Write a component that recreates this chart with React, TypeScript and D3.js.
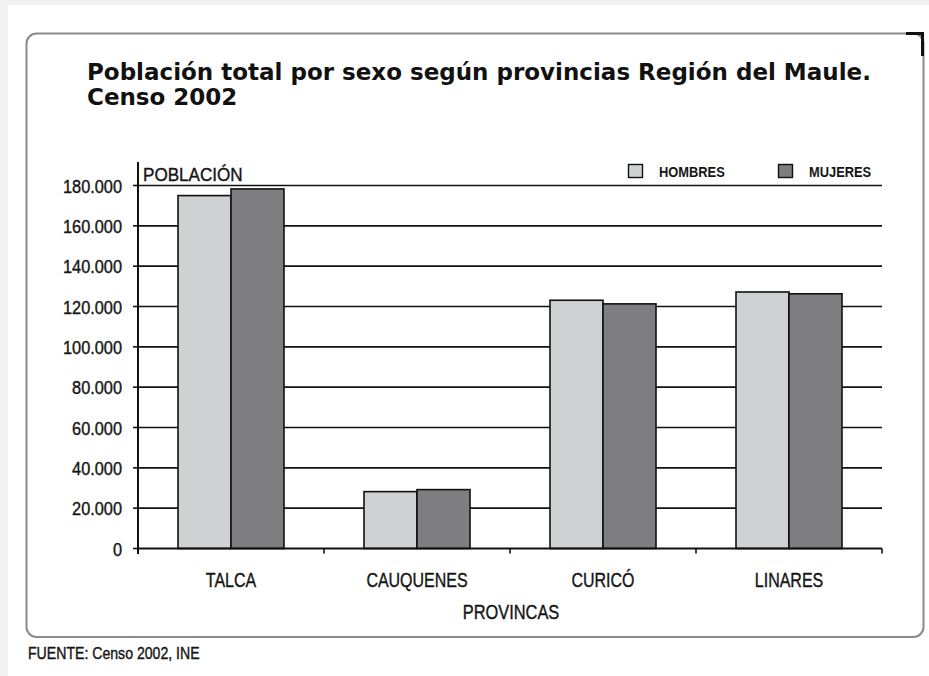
import React from "react";
import * as d3 from "d3";

const categories = ["TALCA", "CAUQUENES", "CURICÓ", "LINARES"];
const seriesNames = ["HOMBRES", "MUJERES"];
const hombres = [175000, 28200, 123100, 127200];
const mujeres = [178300, 29200, 121300, 126300];
const yTicks = [0, 20000, 40000, 60000, 80000, 100000, 120000, 140000, 160000, 180000];

const W = 929;
const H = 676;
const X0 = 138;
const X1 = 882;
const Y0 = 548.5;
const Y1 = 185.5;
const colors = ["#d0d1d3", "#7e7e80"];
const sans = "'Liberation Sans', Arial, sans-serif";

type CTProps = {
  x: number;
  y: number;
  sx: number;
  size: number;
  anchor?: "start" | "middle" | "end";
  bold?: boolean;
  children: React.ReactNode;
};

function CText({ x, y, sx, size, anchor = "start", bold = false, children }: CTProps) {
  return (
    <text
      transform={`translate(${x},${y}) scale(${sx},1)`}
      textAnchor={anchor}
      fontFamily={sans}
      fontSize={size}
      fontWeight={bold ? "bold" : "normal"}
      fill="#151515"
      stroke="#151515"
      strokeWidth={bold ? 0 : 0.4}
    >
      {children}
    </text>
  );
}

export default function App() {
  const x = d3.scaleBand<string>().domain(categories).range([X0, X1]).padding(0);
  const x1 = d3.scaleBand<string>().domain(seriesNames).range([40, 146]).padding(0);
  const y = d3.scaleLinear().domain([0, 180000]).range([Y0, Y1]);
  const fmt = (v: number) => (v === 0 ? "0" : d3.format(",")(v).replace(/,/g, "."));
  const data = [hombres, mujeres];
  const xTickPos = [X0, ...categories.map((c) => (x(c) as number) + x.bandwidth())];

  return (
    <svg width={W} height={H} style={{ position: "absolute", left: 0, top: 0, background: "#fff" }}>
      <rect x={0} y={0} width={W} height={5} fill="#f2f2f2" />
      <rect x={0} y={0} width={8} height={H} fill="#f2f2f2" />
      <rect x={26.5} y={33.5} width={897} height={603.5} rx={10} ry={10} fill="#fff" stroke="#8a8a8a" strokeWidth={2} />
      <path d="M 906 33.5 L 922.5 33.5 L 922.5 56" fill="none" stroke="#111" strokeWidth={3} />

      <text x={87} y={80} fontFamily="'DejaVu Sans', Verdana, sans-serif" fontWeight="bold" fontSize={23} fill="#111">
        Población total por sexo según provincias Región del Maule.
      </text>
      <text x={87} y={105} fontFamily="'DejaVu Sans', Verdana, sans-serif" fontWeight="bold" fontSize={23} fill="#111">
        Censo 2002
      </text>

      {/* gridlines */}
      {yTicks.filter((t) => t > 0).map((t) => (
        <line key={"g" + t} x1={X0} x2={X1} y1={y(t)} y2={y(t)} stroke="#111" strokeWidth={1.6} />
      ))}

      {/* bars */}
      {categories.map((c, i) => (
        <g key={c} transform={`translate(${x(c)},0)`}>
          {seriesNames.map((s, j) => (
            <rect
              key={s}
              x={x1(s)}
              y={y(data[j][i])}
              width={x1.bandwidth()}
              height={Y0 - y(data[j][i])}
              fill={colors[j]}
              stroke="#111"
              strokeWidth={1.6}
            />
          ))}
        </g>
      ))}

      {/* y axis */}
      <line x1={X0} x2={X0} y1={162} y2={554} stroke="#111" strokeWidth={2} />
      {yTicks.map((t) => (
        <g key={"t" + t}>
          <line x1={133} x2={X0} y1={y(t)} y2={y(t)} stroke="#111" strokeWidth={1.6} />
          <CText x={122} y={y(t) + 7} sx={0.86} size={19} anchor="end">
            {fmt(t)}
          </CText>
        </g>
      ))}
      <CText x={143} y={181} sx={0.9} size={19}>POBLACIÓN</CText>

      {/* x axis */}
      <line x1={X0} x2={X1} y1={Y0} y2={Y0} stroke="#111" strokeWidth={2} />
      {xTickPos.map((p, i) => (
        <line key={"xt" + i} x1={p} x2={p} y1={Y0} y2={Y0 + 5} stroke="#111" strokeWidth={1.6} />
      ))}
      {categories.map((c) => (
        <CText key={"xl" + c} x={(x(c) as number) + 40 + x1.bandwidth()} y={587} sx={0.78} size={20.5} anchor="middle">
          {c}
        </CText>
      ))}
      <CText x={511} y={619} sx={0.8} size={20.5} anchor="middle">PROVINCAS</CText>

      {/* legend */}
      {seriesNames.map((s, j) => (
        <g key={"lg" + s} transform={`translate(${[628.5, 778.5][j]},164.5)`}>
          <rect x={0} y={0} width={14} height={13} fill={colors[j]} stroke="#111" strokeWidth={1.4} />
          <CText x={30.5} y={12.5} sx={0.92} size={14} bold>{s}</CText>
        </g>
      ))}

      <CText x={28} y={659} sx={0.83} size={17}>FUENTE: Censo 2002, INE</CText>
    </svg>
  );
}
